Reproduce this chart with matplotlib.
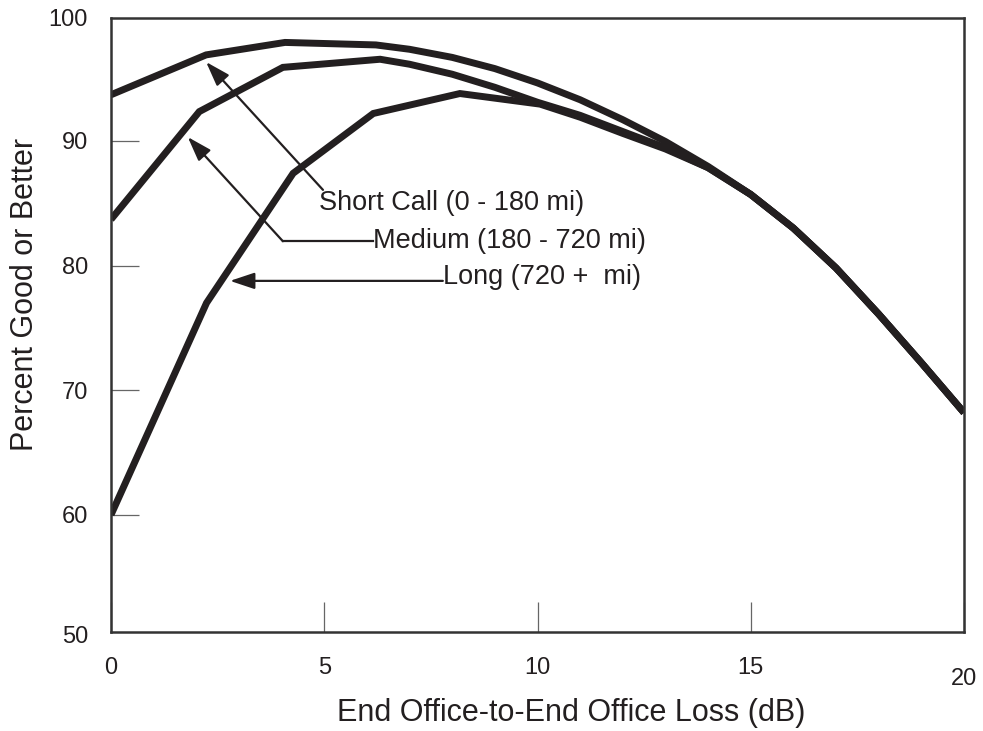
import matplotlib
matplotlib.use("Agg")
import matplotlib.pyplot as plt
import matplotlib.transforms as mtransforms

plt.rcParams['font.family'] = ['Liberation Sans', 'DejaVu Sans']

ink = "#231f20"

# Curves (loss in dB, percent good or better)
loss_short = [0, 2.23, 4.08, 6.21, 7, 8, 9, 10, 11, 12, 13, 14, 15, 16, 17, 18, 19, 20]
pct_short = [93.7, 96.9, 97.9, 97.7, 97.35, 96.7, 95.8, 94.65, 93.3, 91.7, 89.95, 87.95,
             85.7, 83.0, 79.8, 76.1, 72.2, 68.2]

loss_medium = [0, 2.07, 4.03, 6.31, 7, 8, 9, 10, 11, 12, 13, 14, 15, 16, 17, 18, 19, 20]
pct_medium = [83.7, 92.35, 95.9, 96.55, 96.15, 95.35, 94.3, 93.1, 92.05, 90.75, 89.45, 87.85,
              85.7, 83.0, 79.8, 76.1, 72.2, 68.2]

loss_long = [0, 2.24, 4.27, 6.15, 8.18, 10.06, 11, 12, 13, 14, 15, 16, 17, 18, 19, 20]
pct_long = [60.0, 77.0, 87.4, 92.2, 93.8, 92.95, 91.9, 90.6, 89.35, 87.85,
            85.7, 83.0, 79.8, 76.1, 72.2, 68.2]

labels = ["Short Call (0 - 180 mi)", "Medium (180 - 720 mi)", "Long (720 +  mi)"]

fig = plt.figure(figsize=(9.83, 7.31), dpi=100)
ax = fig.add_axes([111 / 983, 1 - 632 / 731, 853 / 983, 614 / 731])

for xs, ys in [(loss_short, pct_short), (loss_medium, pct_medium), (loss_long, pct_long)]:
    ax.plot(xs, ys, color=ink, lw=5.0, solid_joinstyle="miter", solid_capstyle="butt")

ax.set_xlim(0, 20)
ax.set_ylim(50.6, 99.86)

for s in ax.spines.values():
    s.set_linewidth(1.8)
    s.set_color("#333333")

ax.set_xticks([0, 5, 10, 15, 20])
ax.set_xticklabels(["0", "5", "10", "15", "20"])
ax.set_yticks([60, 70, 80, 90])
ax.set_yticklabels(["60", "70", "80", "90"])
ax.tick_params(axis="y", direction="in", length=20, width=0.9, color="#666666",
               pad=16.5, labelsize=17, labelcolor=ink)
ax.tick_params(axis="x", direction="in", length=21.5, width=0.9, color="#666666",
               pad=18, labelsize=17, labelcolor=ink)

# the "20" label sits a little lower in the original
lab20 = ax.get_xticklabels()[-1]
lab20.set_transform(lab20.get_transform() +
                    mtransforms.ScaledTranslation(0, -11 / 100, fig.dpi_scale_trans))

# 50 and 100 sit just past the axis limits
ylab_tr = mtransforms.blended_transform_factory(ax.transAxes, ax.transData)
for v, yy in [("100", 99.7), ("50", 50.2)]:
    ax.text(-23 / 853, yy, v, transform=ylab_tr, ha="right", va="center",
            fontsize=17, color=ink, clip_on=False)

fig.text(25 / 983, 1 - 294 / 731, "Percent Good or Better", rotation=90,
         ha="center", va="center", fontsize=22, color=ink)
fig.text(571 / 983, 1 - 713 / 731, "End Office-to-End Office Loss (dB)",
         ha="center", va="center", fontsize=22, color=ink)

arrow = dict(arrowstyle="-|>,head_length=0.75,head_width=0.25", color=ink, lw=1.6,
             mutation_scale=20, shrinkA=0, shrinkB=0)

# Short call
ax.annotate("", xy=(2.23, 96.33), xytext=(4.97, 86.07), arrowprops=arrow)
ax.text(4.88, 85.0, labels[0], ha="left", va="center", fontsize=19.5, color=ink)

# Medium: elbow line then arrow
ax.plot([6.14, 4.03], [81.95, 81.95], color=ink, lw=1.6)
ax.annotate("", xy=(1.80, 90.31), xytext=(4.03, 81.95), arrowprops=arrow)
ax.text(6.14, 81.97, labels[1], ha="left", va="center", fontsize=19.5, color=ink)

# Long
ax.annotate("", xy=(2.79, 78.77), xytext=(7.78, 78.77), arrowprops=arrow)
ax.text(7.78, 79.08, labels[2], ha="left", va="center", fontsize=19.5, color=ink)

fig.savefig("out.png", dpi=100)
